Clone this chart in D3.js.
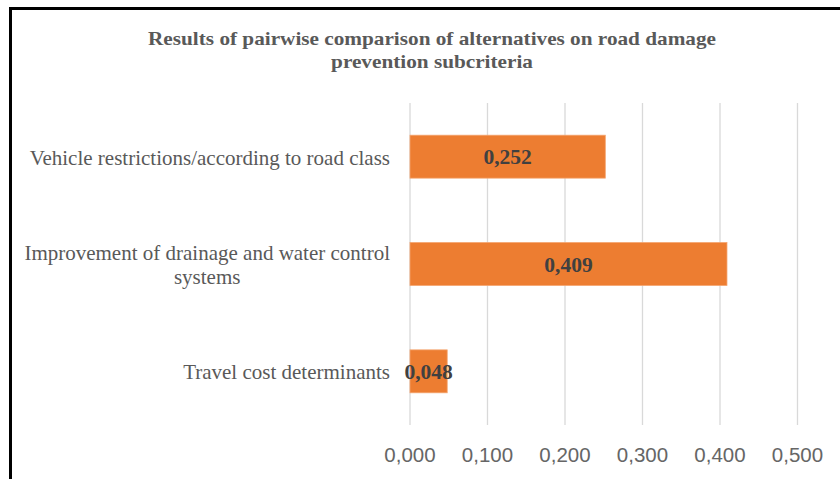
<!DOCTYPE html>
<html><head><meta charset="utf-8">
<script src="https://cdn.jsdelivr.net/npm/d3@7"></script>
<style>html,body{margin:0;padding:0;background:#fff;}svg{display:block;}</style>
</head><body>
<svg id="chart" width="840" height="479"></svg>
<script>
const titleLines = ["Results of pairwise comparison of alternatives on road damage", "prevention subcriteria"];
const categories = ["Vehicle restrictions/according to road class", "Improvement of drainage and water control systems", "Travel cost determinants"];
const categoryLines = [["Vehicle restrictions/according to road class"], ["Improvement of drainage and water control", "systems"], ["Travel cost determinants"]];
const values = [0.252, 0.409, 0.048];
const tickValues = [0, 0.1, 0.2, 0.3, 0.4, 0.5];
const fmt = v => d3.format(".3f")(v).replace(".", ",");

const svg = d3.select("#chart");
const margin = {left: 410, right: 42.5, top: 103, bottom: 54};
const W = 840, H = 479;
const x = d3.scaleLinear().domain([0, 0.5]).range([margin.left, W - margin.right]);
const y = d3.scaleBand().domain(categories).range([margin.top, H - margin.bottom]).paddingInner(0.6).paddingOuter(0.3);

// frame
svg.append("path").attr("d", `M10.5,479 L10.5,8.5 L840,8.5`).attr("fill", "none").attr("stroke", "#000").attr("stroke-width", 3);

// grid
svg.append("g").selectAll("line").data(tickValues).join("line")
  .attr("x1", d => x(d)).attr("x2", d => x(d)).attr("y1", margin.top).attr("y2", H - margin.bottom)
  .attr("stroke", "#d9d9d9").attr("stroke-width", 1.3);

// bars
svg.append("g").selectAll("rect").data(values).join("rect")
  .attr("x", x(0)).attr("y", (d, i) => y(categories[i]))
  .attr("width", d => x(d) - x(0)).attr("height", y.bandwidth())
  .attr("fill", "#ED7D31").attr("stroke", "#f4a46e").attr("stroke-width", 0.8);

// data labels
svg.append("g").selectAll("text").data(values).join("text")
  .attr("x", d => (x(0) + x(d)) / 2).attr("y", (d, i) => y(categories[i]) + y.bandwidth() / 2 + 7.5)
  .attr("text-anchor", "middle").attr("font-family", "Liberation Serif, serif").attr("font-weight", "bold")
  .attr("font-size", 21.5).attr("fill", "#404040").text(d => fmt(d));

// x tick labels
svg.append("g").selectAll("text").data(tickValues).join("text")
  .attr("x", d => x(d)).attr("y", 462)
  .attr("text-anchor", "middle").attr("font-family", "Liberation Sans, sans-serif")
  .attr("font-size", 20.5).attr("fill", "#666").text(d => fmt(d));

// category labels
const labelRight = 390;
categoryLines.forEach((lines, i) => {
  const g = svg.append("g");
  const texts = g.selectAll("text").data(lines).join("text")
    .attr("font-family", "Liberation Serif, serif").attr("font-size", 21).attr("fill", "#595959")
    .attr("text-anchor", "middle").text(d => d);
  let maxW = 0;
  texts.each(function() { maxW = Math.max(maxW, this.getComputedTextLength()); });
  const cy = y(categories[i]) + y.bandwidth() / 2;
  const lh = 24;
  texts.attr("x", labelRight - maxW / 2)
    .attr("y", (d, j) => cy + 8 + (j - (lines.length - 1) / 2) * lh);
});

// title (slightly wide glyphs)
const sx = 1.18;
svg.append("g").selectAll("text").data(titleLines).join("text")
  .attr("transform", (d, i) => `translate(432,${45 + i * 22.5}) scale(${sx},1)`)
  .attr("text-anchor", "middle").attr("font-family", "Liberation Serif, serif").attr("font-weight", "bold")
  .attr("font-size", 18).attr("fill", "#595959").text(d => d);
</script>
</body></html>
